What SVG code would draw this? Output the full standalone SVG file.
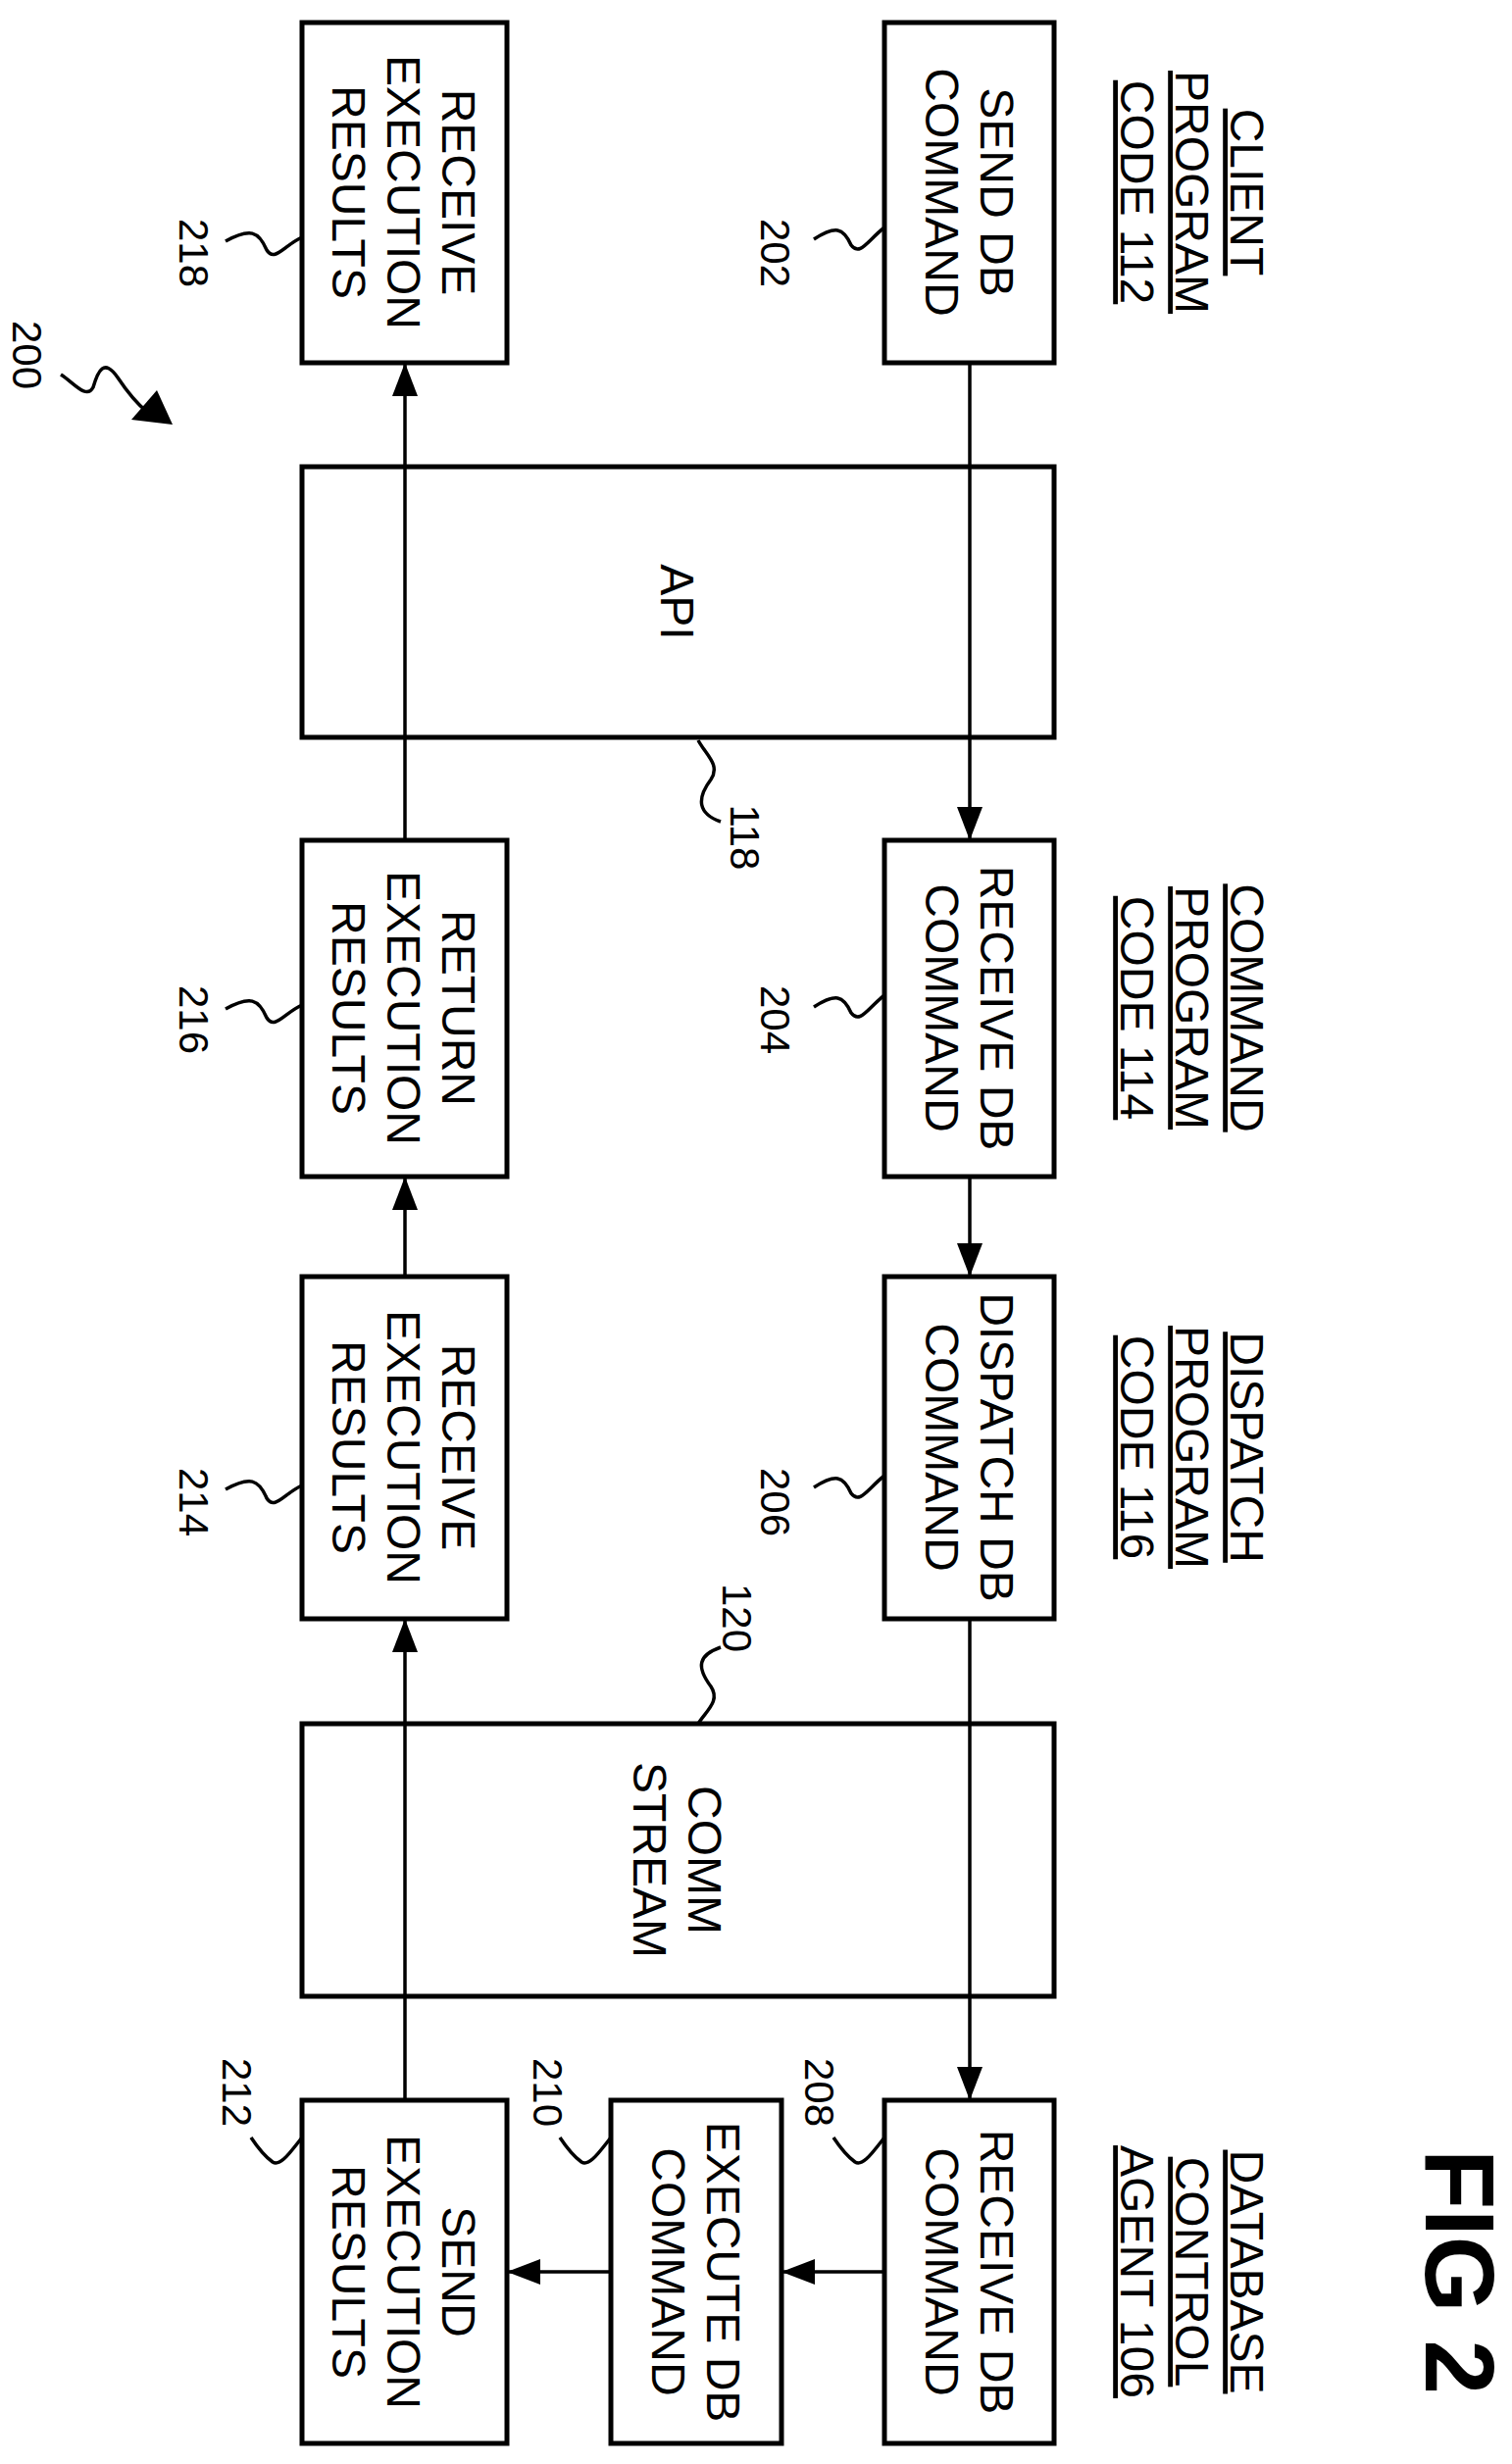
<svg xmlns="http://www.w3.org/2000/svg" width="1542" height="2513" viewBox="0 0 1542 2513">
<defs>
<style>
.b{fill:none;stroke:#000;stroke-width:5}
.c{fill:none;stroke:#000;stroke-width:3.5}
.t{font-family:"Liberation Sans",Arial,sans-serif;font-size:48px;text-anchor:middle;fill:#000}
.n{font-family:"Liberation Sans",Arial,sans-serif;font-size:42px;text-anchor:middle;fill:#000}
.u{text-decoration:underline}
.w{fill:none;stroke:#000;stroke-width:3.5}
</style>
<marker id="a" markerWidth="10" markerHeight="10" refX="9" refY="5" orient="auto" markerUnits="userSpaceOnUse" viewBox="0 0 10 10"><path d="M0,0L10,5L0,10z"/></marker>
<marker id="ah" markerWidth="34" markerHeight="26" refX="34" refY="13" orient="auto" markerUnits="userSpaceOnUse" viewBox="0 0 34 26"><path d="M0,0L34,13L0,26z"/></marker>
</defs>
<rect width="1542" height="2513" fill="#fff"/>
<g id="connectors">
<line class="c" x1="989" y1="370" x2="989" y2="857" marker-end="url(#ah)"/>
<line class="c" x1="989" y1="1200" x2="989" y2="1302" marker-end="url(#ah)"/>
<line class="c" x1="989" y1="1651" x2="989" y2="2142" marker-end="url(#ah)"/>
<line class="c" x1="413" y1="2142" x2="413" y2="1651" marker-end="url(#ah)"/>
<line class="c" x1="413" y1="1302" x2="413" y2="1200" marker-end="url(#ah)"/>
<line class="c" x1="413" y1="857" x2="413" y2="370" marker-end="url(#ah)"/>
<line class="c" x1="902" y1="2317" x2="797" y2="2317" marker-end="url(#ah)"/>
<line class="c" x1="623" y1="2317" x2="517" y2="2317" marker-end="url(#ah)"/>
</g>
<g id="api"><rect class="b" x="308" y="476" width="767" height="276"/>
<text class="t" transform="translate(691,614) rotate(90)" y="17">API</text></g>
<g id="comm"><rect class="b" x="308" y="1758" width="767" height="278"/>
<text class="t" transform="translate(691,1897) rotate(90)"><tspan x="0" y="-11">COMM</tspan><tspan x="0" y="45">STREAM</tspan></text></g>
<g id="n218"><rect class="b" x="308" y="23" width="209" height="347"/>
<text class="t" transform="translate(412,196) rotate(90)"><tspan x="0" y="-39">RECEIVE</tspan><tspan x="0" y="17">EXECUTION</tspan><tspan x="0" y="73">RESULTS</tspan></text></g>
<g id="n202"><rect class="b" x="902" y="23" width="173" height="347"/>
<text class="t" transform="translate(989,196) rotate(90)"><tspan x="0" y="-11">SEND DB</tspan><tspan x="0" y="45">COMMAND</tspan></text></g>
<g id="n216"><rect class="b" x="308" y="857" width="209" height="343"/>
<text class="t" transform="translate(412,1028) rotate(90)"><tspan x="0" y="-39">RETURN</tspan><tspan x="0" y="17">EXECUTION</tspan><tspan x="0" y="73">RESULTS</tspan></text></g>
<g id="n204"><rect class="b" x="902" y="857" width="173" height="343"/>
<text class="t" transform="translate(989,1028) rotate(90)"><tspan x="0" y="-11">RECEIVE DB</tspan><tspan x="0" y="45">COMMAND</tspan></text></g>
<g id="n214"><rect class="b" x="308" y="1302" width="209" height="349"/>
<text class="t" transform="translate(412,1476) rotate(90)"><tspan x="0" y="-39">RECEIVE</tspan><tspan x="0" y="17">EXECUTION</tspan><tspan x="0" y="73">RESULTS</tspan></text></g>
<g id="n206"><rect class="b" x="902" y="1302" width="173" height="349"/>
<text class="t" transform="translate(989,1476) rotate(90)"><tspan x="0" y="-11">DISPATCH DB</tspan><tspan x="0" y="45">COMMAND</tspan></text></g>
<g id="n212"><rect class="b" x="308" y="2142" width="209" height="350"/>
<text class="t" transform="translate(412,2317) rotate(90)"><tspan x="0" y="-39">SEND</tspan><tspan x="0" y="17">EXECUTION</tspan><tspan x="0" y="73">RESULTS</tspan></text></g>
<g id="n210"><rect class="b" x="623" y="2142" width="174" height="350"/>
<text class="t" transform="translate(710,2317) rotate(90)"><tspan x="0" y="-11">EXECUTE DB</tspan><tspan x="0" y="45">COMMAND</tspan></text></g>
<g id="n208"><rect class="b" x="902" y="2142" width="173" height="350"/>
<text class="t" transform="translate(989,2317) rotate(90)"><tspan x="0" y="-11">RECEIVE DB</tspan><tspan x="0" y="45">COMMAND</tspan></text></g>
<g id="lanes">
<text class="t u" transform="translate(1216,196) rotate(90)"><tspan x="0" y="-39">CLIENT</tspan><tspan x="0" y="17">PROGRAM</tspan><tspan x="0" y="73">CODE 112</tspan></text>
<text class="t u" transform="translate(1216,1028) rotate(90)"><tspan x="0" y="-39">COMMAND</tspan><tspan x="0" y="17">PROGRAM</tspan><tspan x="0" y="73">CODE 114</tspan></text>
<text class="t u" transform="translate(1216,1476) rotate(90)"><tspan x="0" y="-39">DISPATCH</tspan><tspan x="0" y="17">PROGRAM</tspan><tspan x="0" y="73">CODE 116</tspan></text>
<text class="t u" transform="translate(1216,2317) rotate(90)"><tspan x="0" y="-39">DATABASE</tspan><tspan x="0" y="17">CONTROL</tspan><tspan x="0" y="73">AGENT 106</tspan></text>
<text transform="translate(1490,2317) rotate(90)" y="36" style="font-family:'Liberation Sans',Arial,sans-serif;font-size:100px;font-weight:bold;text-anchor:middle">FIG 2</text>
</g>
<g id="refs">
<text class="n" transform="translate(198,258) rotate(90)" y="15">218</text>
<path class="w" d="M308,242 C290,250 280,268 272,255 C264,236 255,232 230,246"/>
<text class="n" transform="translate(791,258) rotate(90)" y="15">202</text>
<path class="w" d="M902,232 C885,245 877,262 868,250 C860,232 852,230 830,244"/>
<text class="n" transform="translate(28,362) rotate(90)" y="15">200</text>
<path class="w" d="M62,382 C75,390 88,408 95,395 C100,378 106,365 120,385 C130,400 140,412 150,420"/>
<path d="M134,428 L176,433 L160,398 z"/>
<text class="n" transform="translate(760,854) rotate(90)" y="15">118</text>
<path class="w" d="M712,755 C720,770 735,780 725,795 C710,815 712,830 735,838"/>
<text class="n" transform="translate(791,1040) rotate(90)" y="15">204</text>
<path class="w" d="M902,1015 C885,1028 877,1045 868,1033 C860,1015 852,1013 830,1027"/>
<text class="n" transform="translate(198,1040) rotate(90)" y="15">216</text>
<path class="w" d="M308,1025 C290,1033 280,1051 272,1038 C264,1019 255,1015 230,1029"/>
<text class="n" transform="translate(791,1532) rotate(90)" y="15">206</text>
<path class="w" d="M902,1505 C885,1518 877,1535 868,1523 C860,1505 852,1503 830,1517"/>
<text class="n" transform="translate(198,1532) rotate(90)" y="15">214</text>
<path class="w" d="M308,1515 C290,1523 280,1541 272,1528 C264,1509 255,1505 230,1519"/>
<text class="n" transform="translate(752,1650) rotate(90)" y="15">120</text>
<path class="w" d="M712,1758 C720,1745 735,1735 725,1720 C710,1700 712,1688 735,1680"/>
<text class="n" transform="translate(836,2134) rotate(90)" y="15">208</text>
<path class="w" d="M902,2180 C890,2195 880,2210 872,2205 C865,2200 860,2195 850,2180"/>
<text class="n" transform="translate(559,2134) rotate(90)" y="15">210</text>
<path class="w" d="M623,2180 C611,2195 601,2210 593,2205 C586,2200 581,2195 571,2180"/>
<text class="n" transform="translate(242,2134) rotate(90)" y="15">212</text>
<path class="w" d="M308,2180 C296,2195 286,2210 278,2205 C271,2200 266,2195 256,2180"/>
</g>
</svg>
